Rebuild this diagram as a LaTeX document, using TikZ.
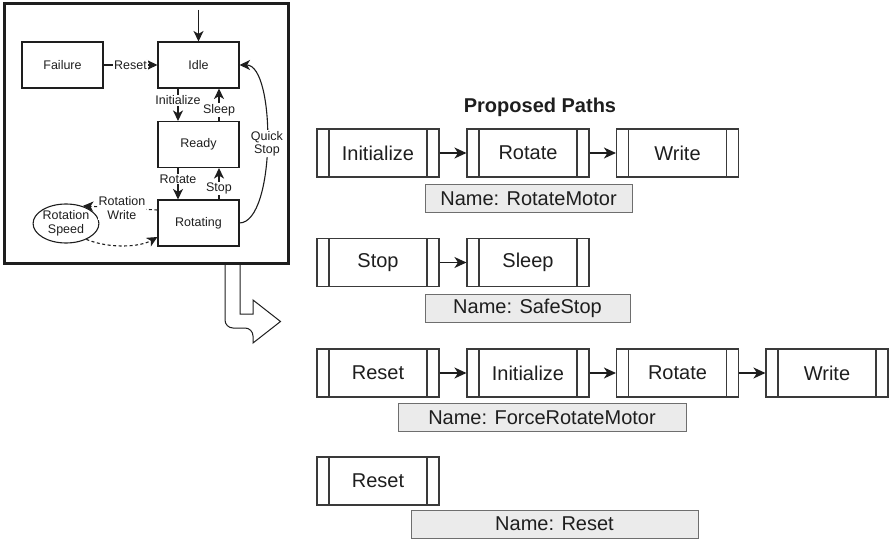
\documentclass[tikz,border=0pt]{standalone}
\usepackage{fontspec}
\setmainfont{Liberation Sans}
\usetikzlibrary{arrows.meta,shapes.geometric}
\definecolor{ink}{HTML}{1E1E1E}
\definecolor{stepline}{HTML}{3A3A3A}
\definecolor{namefill}{HTML}{EBEBEB}
\definecolor{nameline}{HTML}{6E6E6E}

\begin{document}
\begin{tikzpicture}[x=1pt,y=-1pt,
  small/.style={font=\fontsize{12.5}{13.5}\selectfont},
  big/.style={font=\fontsize{20}{22}\selectfont},
  state/.style={small, draw=ink, line width=1.1pt, minimum width=81pt,
    minimum height=46pt, inner sep=0pt, text=ink},
  lbl/.style={small, fill=white, inner sep=1pt, text=ink, align=center},
  arr/.style={draw=ink, line width=1.1pt, -{Stealth[length=10.5pt,width=10pt,inset=3pt]}},
  darr/.style={arr, dashed, dash pattern=on 3pt off 2.5pt},
  pathstep/.style={big, draw=stepline, line width=1.1pt, minimum width=122pt,
    minimum height=48pt, inner sep=0pt, text=ink,
    path picture={\draw[stepline, line width=1.1pt]
      ([xshift=12pt]path picture bounding box.north west) --
      ([xshift=12pt]path picture bounding box.south west)
      ([xshift=-12pt]path picture bounding box.north east) --
      ([xshift=-12pt]path picture bounding box.south east);}},
  namebox/.style={big, draw=nameline, fill=namefill, line width=1pt,
    minimum height=28pt, inner sep=0pt, text=ink},
  link/.style={draw=ink, line width=1.3pt, -{Stealth[length=12pt,width=11pt,inset=3.5pt]}}
]
\useasboundingbox (0,0) rectangle (889,540);

% ---- state machine panel ----
\draw[line width=3pt, ink] (4,3.5) rectangle (288,263.5);

\node[state] (fail) at (62.5,65) {Failure};
\node[state] (idle) at (198.5,65) {Idle};
\node[state] (ready) at (198.5,144.5) {Ready};
\node[state] (rot) at (198.5,223) {Rotating};
\node[small, draw=ink, line width=1.1pt, ellipse, minimum width=62pt,
  minimum height=39pt, inner sep=0pt, align=center, text=ink]
  (rs) at (66,223.5) {Rotation\\Speed};

\coordinate (entry) at (198.5,10);
\draw[arr] (entry) -- (idle.north);
\draw[arr] (fail) -- node[lbl] {Reset} (idle);
\draw[arr] ([xshift=-20.5pt]idle.south) -- node[lbl, pos=0.36] {Initialize}
  ([xshift=-20.5pt]ready.north);
\draw[arr] ([xshift=20.5pt]ready.north) -- node[lbl, pos=0.33] {Sleep}
  ([xshift=20.5pt]idle.south);
\draw[arr] ([xshift=-20.5pt]ready.south) -- node[lbl, pos=0.35] {Rotate}
  ([xshift=-20.5pt]rot.north);
\draw[arr] ([xshift=20.5pt]rot.north) -- node[lbl, pos=0.35] {Stop}
  ([xshift=20.5pt]ready.south);
\draw[arr] (rot.east) .. controls (276,222) and (276,65) .. (idle.east)
  node[lbl, pos=0.5] {Quick\\Stop};
\draw[darr, shorten >=1pt] ([yshift=13pt]rot.west) -- node[lbl, pos=0.47] {Rotation\\Write} (rs.48);
\draw[darr] (rs.-38) .. controls (110,249) and (140,247) .. ([yshift=-14pt]rot.west);

% ---- hollow pointer toward the paths ----
\draw[ink, line width=1pt, fill=white]
  (225,265) -- (225,318) [rounded corners=8pt] -- (225,328) -- (253,328)
  [sharp corners] -- (253,343) -- (280.5,321.5) -- (253,300) -- (253,314)
  -- (240,314) -- (240,265);

% ---- proposed paths ----
\node[font=\fontsize{20}{24}\selectfont\bfseries, text=ink] (title) at (540,107) {Proposed Paths};

\node[pathstep] (a1) at (378,153) {Initialize};
\node[pathstep] (a2) at (528,153) {Rotate};
\node[pathstep] (a3) at (677.5,153) {Write};
\draw[link] (a1) -- (a2);
\draw[link] (a2) -- (a3);
\node[namebox, minimum width=207pt] (n1) at (528.5,199) {Name: RotateMotor};

\node[pathstep] (b1) at (378,262.5) {Stop};
\node[pathstep] (b2) at (528,262.5) {Sleep};
\draw[link] (b1) -- (b2);
\node[namebox, minimum width=205pt] (n2) at (527.5,308) {Name: SafeStop};

\node[pathstep] (c1) at (378,373) {Reset};
\node[pathstep] (c2) at (528,373) {Initialize};
\node[pathstep] (c3) at (677.5,373) {Rotate};
\node[pathstep] (c4) at (827,373) {Write};
\draw[link] (c1) -- (c2);
\draw[link] (c2) -- (c3);
\draw[link] (c3) -- (c4);
\node[namebox, minimum width=288pt] (n3) at (542,417.5) {Name: ForceRotateMotor};

\node[pathstep] (d1) at (378,481) {Reset};
\node[namebox, minimum width=287pt] (n4) at (554.5,524) {Name: Reset};
\end{tikzpicture}
\end{document}
